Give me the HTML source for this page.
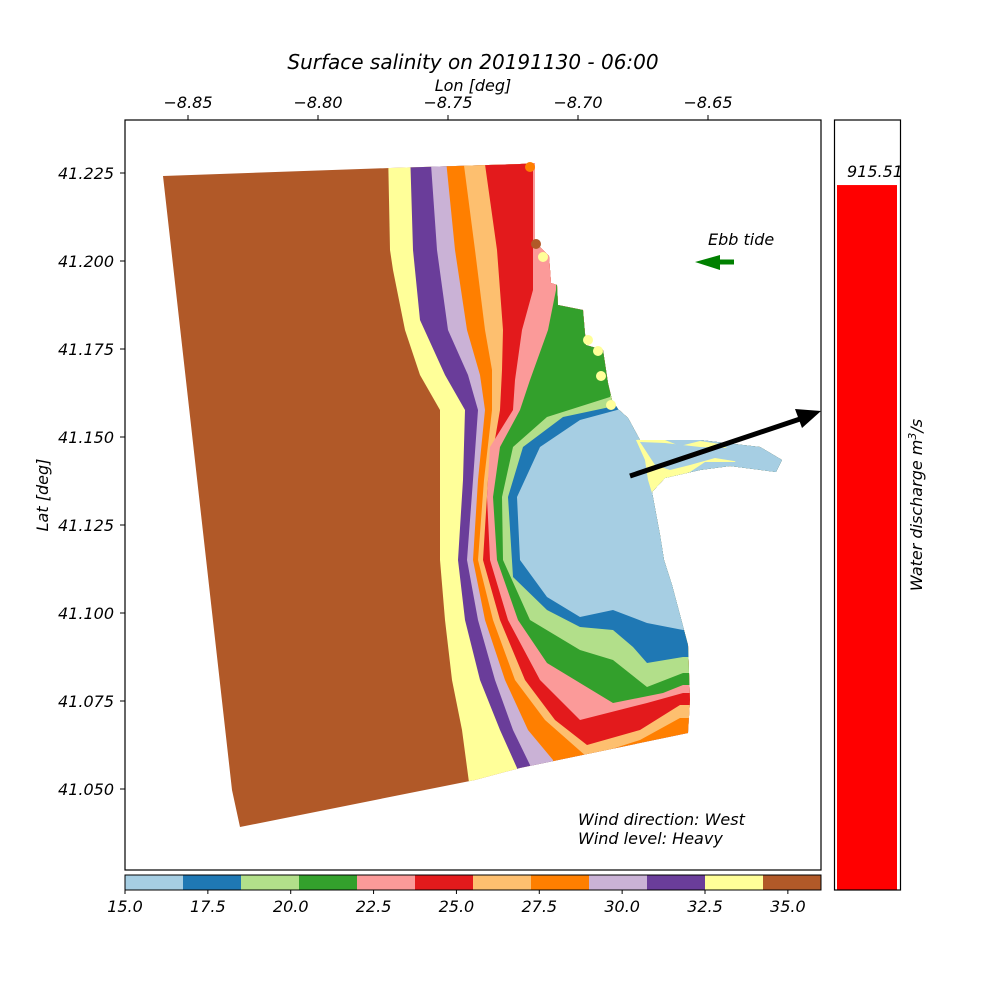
<!DOCTYPE html>
<html><head><meta charset="utf-8"><style>
body{margin:0;background:#fff}
svg text{font-family:"DejaVu Sans","Liberation Sans",sans-serif;font-style:italic}
</style></head><body>
<svg id="fig" width="1000" height="1000" viewBox="0 0 1000 1000" xmlns="http://www.w3.org/2000/svg">
<defs><clipPath id="dom"><polygon id="domainPoly" points=""/></clipPath></defs>
<text x="473" y="69" font-size="20" text-anchor="middle">Surface salinity on 20191130 - 06:00</text>
<text x="473" y="91" font-size="16" text-anchor="middle">Lon [deg]</text>
<text transform="translate(48,495) rotate(-90)" font-size="16" text-anchor="middle">Lat [deg]</text>
<g id="map" clip-path="url(#dom)"></g>
<g id="axes"></g>
<text x="708" y="245" font-size="16">Ebb tide</text>
<polygon fill="#008000" points="695,262 720,255 720,259.5 734,259.5 734,264.5 720,264.5 720,270"/>
<g><line x1="630" y1="476" x2="800" y2="419" stroke="#000" stroke-width="5"/><polygon fill="#000" points="821,411 795,409 802,428"/></g>
<text x="578" y="825" font-size="16">Wind direction: West</text>
<text x="578" y="844" font-size="16">Wind level: Heavy</text>
<g id="cbar"></g>
<g id="qbar"></g>
<text transform="translate(922,505) rotate(-90)" font-size="16" text-anchor="middle">Water discharge m<tspan font-size="11" dy="-6">3</tspan><tspan dy="6">/s</tspan></text>
</svg>
<script>
const lonTicks=[-8.85,-8.80,-8.75,-8.70,-8.65];
const latTicks=[41.050,41.075,41.100,41.125,41.150,41.175,41.200,41.225];
const cbarLevels=[15,16.75,18.5,20.25,22,23.75,25.5,27.25,29,30.75,32.5,34.25,36];
const cbarColors=["#a6cee3","#1f78b4","#b2df8a","#33a02c","#fb9a99","#e31a1c","#fdbf6f","#ff7f00","#cab2d6","#6a3d9a","#ffff99","#b15928"];
const cbarTicks=[15,17.5,20,22.5,25,27.5,30,32.5,35];
const discharge=[915.51];
const NS="http://www.w3.org/2000/svg";
const svg=document.getElementById('fig');
function mk(tag,attrs,parent){const e=document.createElementNS(NS,tag);for(const k in attrs)e.setAttribute(k,attrs[k]);parent.appendChild(e);return e;}
const X0=125,X1=821,Y0=120,Y1=870;
const xLon=v=>188+(v+8.85)/0.05*130;
const yLat=v=>173+(41.225-v)/0.025*88;
const domain=[[163,176],[390,168],[520,164],[535,163],[535,242],[549,256],[551,283],[557,285],[558,305],[583,310],[586,345],[603,350],[608,383],[612,400],[618,409],[628,418],[640,440],[700,440],[760,447],[782,460],[776,472],[730,466],[700,470],[665,478],[652,492],[660,535],[664,560],[672,585],[680,615],[688,645],[690,700],[688,733],[520,768],[475,780],[240,827],[232,790]];
document.getElementById('domainPoly').setAttribute('points',domain.map(p=>p.join(',')).join(' '));
const map=document.getElementById('map');
const bands=[
 {c:"#b15928",n:"band-35",pts:[[0,100],[1000,100],[1000,950],[0,950]],raw:true},
 {c:"#ffff99",n:"band-33",pts:[[388,150],[390,250],[393,270],[405,330],[420,375],[440,410],[440,480],[440,560],[445,620],[452,680],[462,730],[470,790],[470,950]]},
 {c:"#6a3d9a",n:"band-31",pts:[[410,150],[413,250],[420,320],[445,375],[465,410],[463,480],[458,560],[465,620],[480,680],[500,730],[517,768],[517,950]]},
 {c:"#cab2d6",n:"band-30",pts:[[430,150],[437,250],[448,330],[468,375],[478,410],[473,480],[467,560],[478,620],[495,680],[513,730],[530,765],[530,950]]},
 {c:"#ff7f00",n:"band-28",pts:[[445,150],[455,250],[467,330],[480,375],[485,410],[478,480],[473,560],[485,620],[505,680],[528,730],[553,760],[553,950]]},
 {c:"#fdbf6f",n:"band-26",pts:[[462,150],[475,250],[485,330],[492,370],[492,410],[484,480],[478,560],[493,620],[515,680],[545,720],[587,757],[640,740],[680,718],[1000,718]]},
 {c:"#e31a1c",n:"band-24",pts:[[483,150],[497,250],[503,330],[502,370],[500,410],[488,480],[483,560],[500,620],[525,680],[555,720],[587,745],[640,730],[680,705],[1000,705]]},
 {c:"#fb9a99",n:"band-23",pts:[[533,150],[533,290],[522,330],[515,380],[513,410],[490,447],[487,497],[490,560],[508,620],[540,680],[580,720],[647,703],[683,693],[1000,693]]},
 {c:"#33a02c",n:"band-21",pts:[[560,150],[556,290],[548,330],[530,380],[520,410],[500,447],[493,497],[497,560],[518,620],[547,663],[613,703],[663,693],[683,685],[1000,685]]},
 {c:"#b2df8a",n:"band-19",pts:[[620,150],[615,380],[610,397],[547,417],[513,447],[502,497],[503,560],[530,620],[580,650],[613,660],[647,687],[683,673],[1000,673]]},
 {c:"#1f78b4",n:"band-18",pts:[[640,150],[625,400],[610,407],[563,417],[523,447],[508,497],[513,577],[547,610],[580,627],[613,630],[633,647],[647,663],[683,657],[1000,657]]},
 {c:"#a6cee3",n:"band-16",pts:[[650,150],[630,405],[617,410],[580,420],[540,447],[517,497],[520,560],[547,597],[580,617],[613,610],[647,623],[683,630],[1000,630]]}
];
bands.forEach(b=>{
  let pts=b.pts.slice();
  if(!b.raw){const last=pts[pts.length-1];pts.push([1000,Math.max(last[1],150)]);pts.push([1000,100]);pts.push([pts[0][0],100]);}
  const p=mk('polygon',{points:pts.map(q=>q.join(',')).join(' '),fill:b.c},map);
  
  
});
const yel=mk('polygon',{points:"636,440 660,438 680,446 700,441 720,444 740,455 735,462 705,462 690,472 670,480 652,493 648,480 645,460",fill:"#ffff99"},map);


const est=mk('polygon',{points:"640,442 665,443 700,447 760,449 780,460 775,470 740,462 715,458 690,465 670,470 655,465",fill:"#a6cee3"},map);


[[530,167,"#ff7f00"],[536,244,"#b15928"],[543,257,"#ffff99"],[588,340,"#ffff99"],[598,351,"#ffff99"],[601,376,"#ffff99"],[611,405,"#ffff99"]].forEach(d=>{
  const c=mk('circle',{cx:d[0],cy:d[1],r:5,fill:d[2]},svg);
  
  
});
const ax=document.getElementById('axes');
mk('rect',{x:X0,y:Y0,width:X1-X0,height:Y1-Y0,fill:'none',stroke:'#000','stroke-width':1.2},ax);
lonTicks.forEach(v=>{const x=xLon(v);
  mk('line',{x1:x,y1:Y0,x2:x,y2:Y0-5,stroke:'#000'},ax);
  const t=mk('text',{x:x,y:108,'font-size':16,'text-anchor':'middle'},ax);t.textContent='\u2212'+Math.abs(v).toFixed(2);
  
  
});
latTicks.forEach(v=>{const y=yLat(v);
  mk('line',{x1:X0,y1:y,x2:X0-5,y2:y,stroke:'#000'},ax);
  const t=mk('text',{x:114,y:y+6,'font-size':16,'text-anchor':'end'},ax);t.textContent=v.toFixed(3);
  
  
});
const cb=document.getElementById('cbar');
const xc=v=>125+(v-15)/21*696;
cbarColors.forEach((c,i)=>{
  const r=mk('rect',{x:xc(cbarLevels[i]),y:875,width:xc(cbarLevels[i+1])-xc(cbarLevels[i])+0.5,height:15,fill:c},cb);
  
  
});
mk('rect',{x:125,y:875,width:696,height:15,fill:'none',stroke:'#000'},cb);
cbarTicks.forEach(v=>{const x=xc(v);
  mk('line',{x1:x,y1:890,x2:x,y2:894,stroke:'#000'},cb);
  const t=mk('text',{x:x,y:912,'font-size':16,'text-anchor':'middle'},cb);t.textContent=v.toFixed(1);
  
  
});
const qb=document.getElementById('qbar');
const yq=v=>890-v/1000*770;
discharge.forEach(v=>{
  const r=mk('rect',{x:837,y:yq(v),width:60,height:890-yq(v),fill:'#ff0000'},qb);
  
  
  const t=mk('text',{x:847,y:yq(v)-8,'font-size':16},qb);t.textContent=v.toFixed(2);
  
  
});
mk('rect',{x:834.5,y:120,width:66,height:770,fill:'none',stroke:'#000','stroke-width':1.2},qb);
</script>
</body></html>
